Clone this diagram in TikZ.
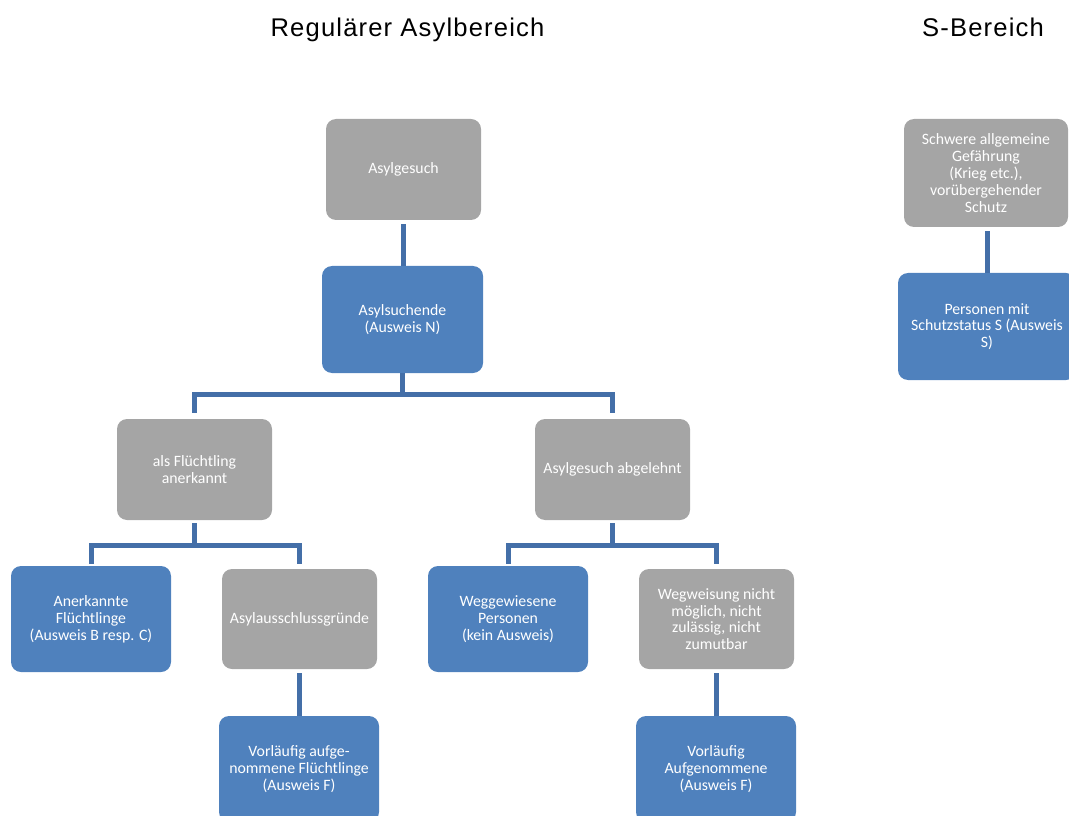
\documentclass[tikz,border=0pt]{standalone}
\usepackage{fontspec}
\setmainfont{Carlito}
\newfontfamily\titlefont[LetterSpace=4.5]{Liberation Sans}
\usepackage{tikz}
\usetikzlibrary{positioning}
\definecolor{boxgray}{RGB}{165,165,165}
\definecolor{boxblue}{RGB}{79,129,189}
\definecolor{linienblau}{RGB}{68,111,168}

\begin{document}
\begin{tikzpicture}[x=0.75pt,y=-0.75pt,
    kasten/.style={rectangle,rounded corners=7.5pt,text=white,align=center,inner sep=2pt,
        font=\fontsize{11.85pt}{12.6pt}\selectfont},
    grau/.style={kasten,fill=boxgray,minimum width=116.25pt,minimum height=75.75pt},
    blau/.style={kasten,fill=boxblue,minimum width=120pt,minimum height=79.5pt},
    verbindung/.style={draw=linienblau,line width=3.75pt},
    titel/.style={anchor=base,font=\titlefont\fontsize{19.2pt}{23pt}\selectfont}]
                % page size of the reference
                \useasboundingbox (0,0) rectangle (1069,816);

                % headings
                \node[titel] (titelAsyl) at (407.5,37) {Regulärer Asylbereich};
                \node[titel] (titelS) at (983,37) {S-Bereich};

                % regular asylum tree
                \node[grau] (gesuch) at (403.5,169.5) {Asylgesuch};
                \node[blau,minimum width=120.75pt,minimum height=80.25pt] (suchende) at (402.5,319.5) {Asylsuchende\\(Ausweis N)};
                \node[grau] (anerkannt) at (194.5,469.5) {als Flüchtling\\anerkannt};
                \node[grau] (abgelehnt) at (612.5,469.5) {Asylgesuch abgelehnt};
                \node[blau] (fluechtlinge) at (91,619) {Anerkannte\\Flüchtlinge\\(Ausweis B resp. C)};
                \node[grau,minimum height=75pt] (ausschluss) at (299.5,619) {Asylausschlussgründe};
                \node[blau] (vorlaeufigF) at (299,769) {Vorläufig aufge-\\nommene Flüchtlinge\\(Ausweis F)};
                \node[blau] (weggewiesen) at (508,619) {Weggewiesene\\Personen\\(kein Ausweis)};
                \node[grau,minimum height=75pt] (wegweisung) at (716.5,619) {Wegweisung nicht\\möglich, nicht\\zulässig, nicht\\zumutbar};
                \node[blau] (vorlaeufigA) at (716,769) {Vorläufig\\Aufgenommene\\(Ausweis F)};

                % S area
                \node[grau,minimum width=123pt,minimum height=81pt] (gefaehrdung) at (986,173) {Schwere allgemeine\\Gefährung\\(Krieg etc.),\\vorübergehender\\Schutz};
                \node[blau,minimum width=133.5pt,minimum height=80.25pt] (schutzS) at (987,326.5) {Personen mit\\Schutzstatus S (Ausweis\\S)};

                % straight connectors
                \draw[verbindung,shorten <=3pt] (gesuch.south) -- (gesuch.south |- suchende.north);
                \draw[verbindung,shorten <=3pt] (ausschluss.south) -- (ausschluss.south |- vorlaeufigF.north);
                \draw[verbindung,shorten <=3pt] (wegweisung.south) -- (wegweisung.south |- vorlaeufigA.north);
                \draw[verbindung,shorten <=3pt] (schutzS.north |- gefaehrdung.south) -- (schutzS.north);

                % forks
                \coordinate (gabelN) at ([yshift=-15.75pt]suchende.south);
                \draw[verbindung] (suchende.south) -- (gabelN);
                \draw[verbindung,shorten >=4.5pt] (gabelN) -| (anerkannt.north);
                \draw[verbindung,shorten >=4.5pt] (gabelN) -| (abgelehnt.north);

                \coordinate (gabelA) at ([yshift=-18.75pt]anerkannt.south);
                \draw[verbindung,shorten <=2.25pt] (anerkannt.south) -- (gabelA);
                \draw[verbindung,shorten >=1.5pt] (gabelA) -| (fluechtlinge.north);
                \draw[verbindung,shorten >=3.75pt] (gabelA) -| (ausschluss.north);

                \coordinate (gabelB) at ([yshift=-18.75pt]abgelehnt.south);
                \draw[verbindung,shorten <=2.25pt] (abgelehnt.south) -- (gabelB);
                \draw[verbindung,shorten >=1.5pt] (gabelB) -| (weggewiesen.north);
                \draw[verbindung,shorten >=3.75pt] (gabelB) -| (wegweisung.north);
            \end{tikzpicture}
\end{document}
